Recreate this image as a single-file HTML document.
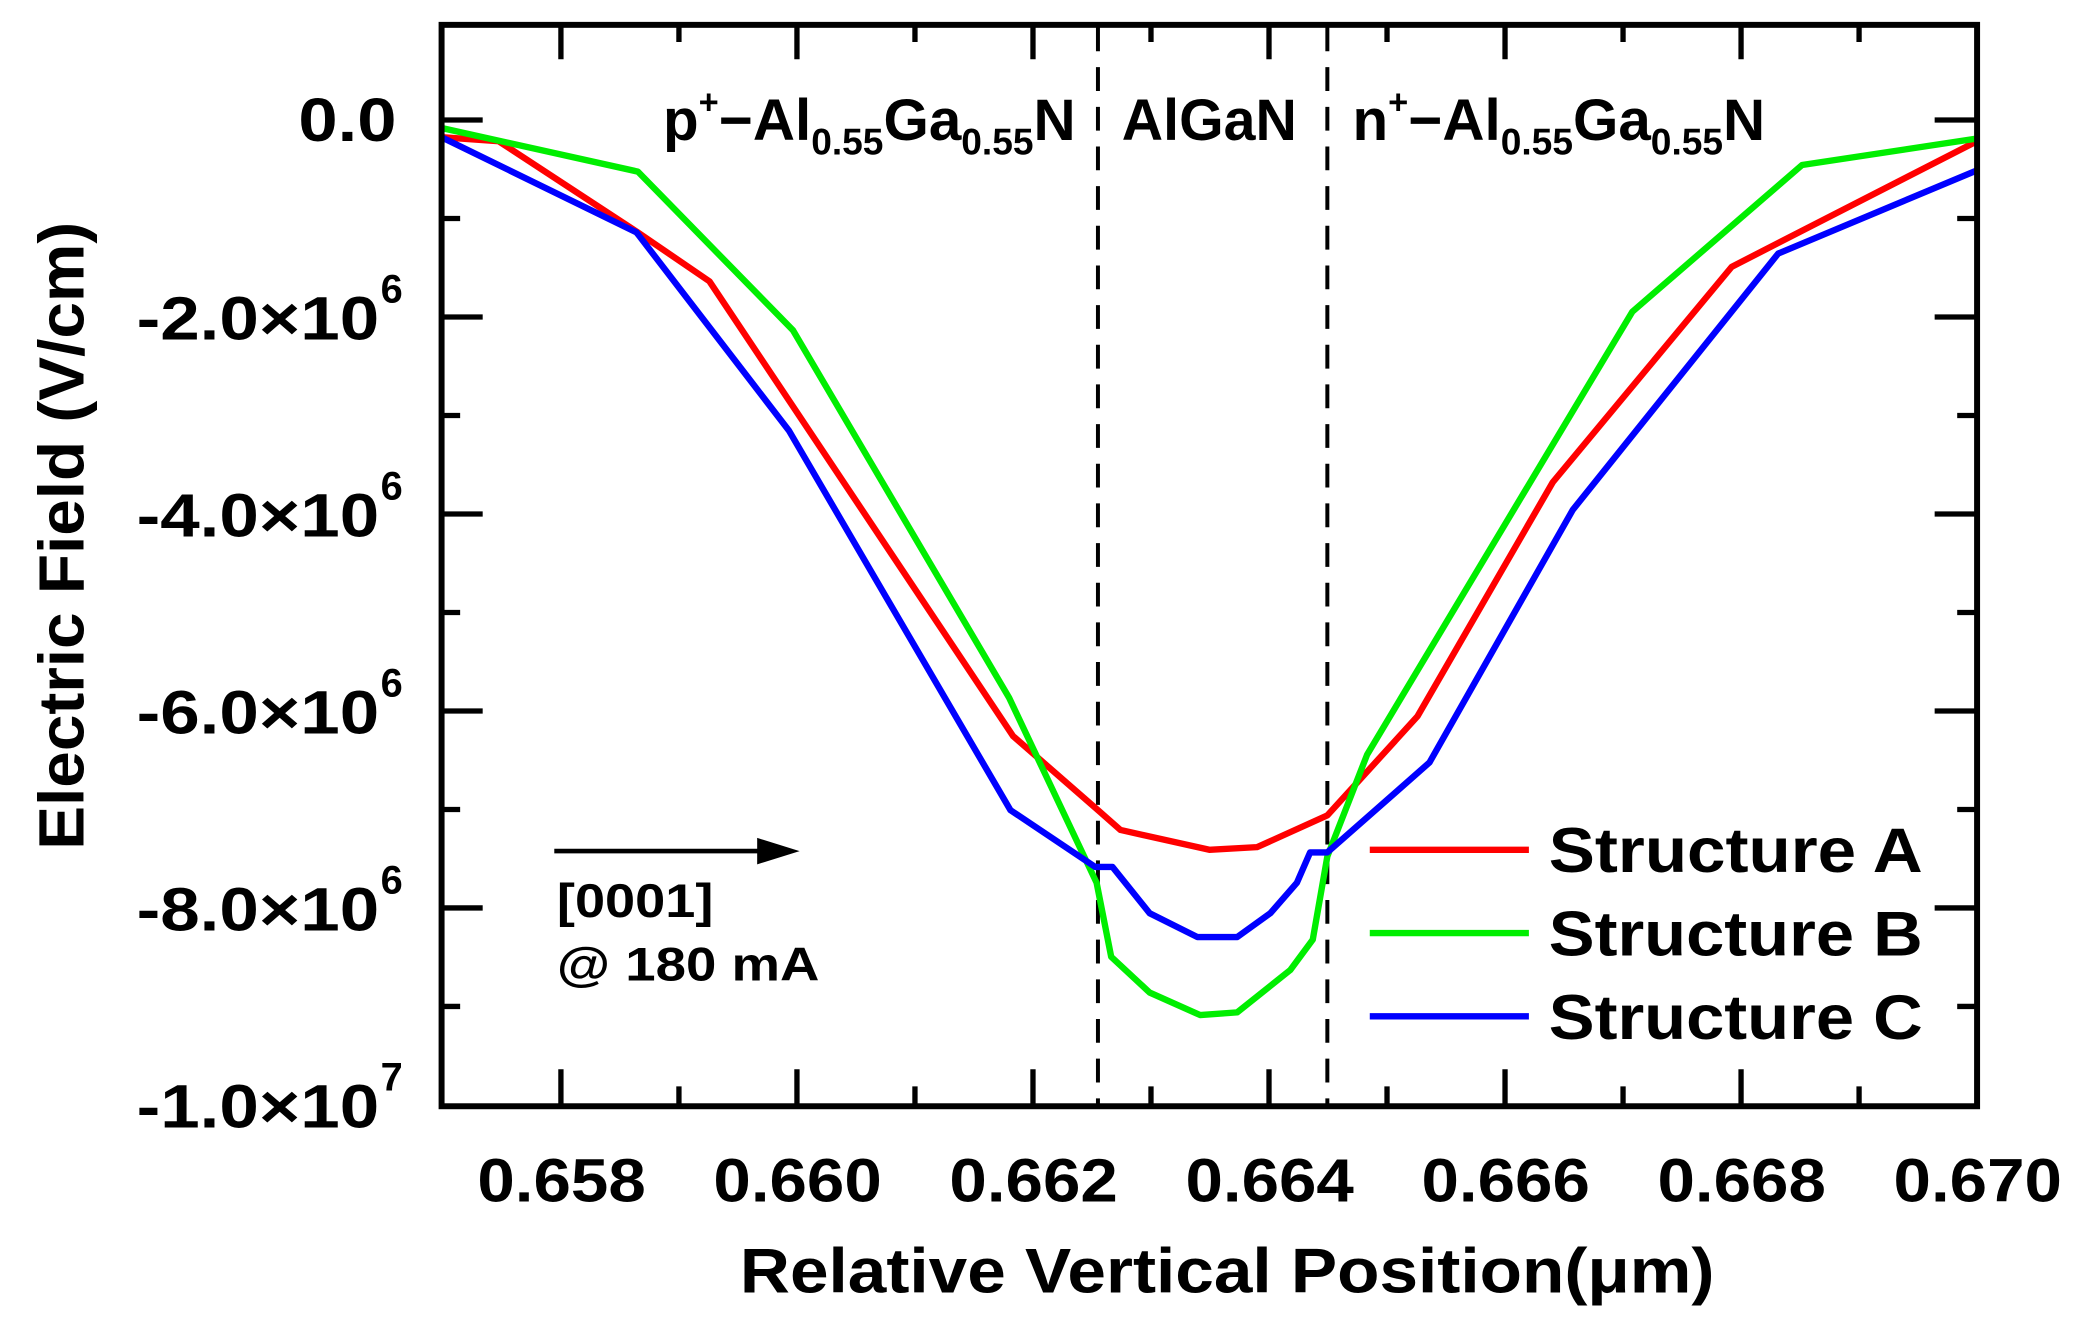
<!DOCTYPE html>
<html><head><meta charset="utf-8"><style>html,body{margin:0;padding:0;background:#fff}svg{display:block}</style></head>
<body>
<svg width="2084" height="1336" viewBox="0 0 2084 1336" xmlns="http://www.w3.org/2000/svg">
<g transform="translate(4,3.7) scale(1.326,1.322)" font-family="Liberation Sans, Arial, sans-serif" font-weight="bold" fill="#000">
<g stroke="#000" stroke-width="4">
<path d="M420,834v-28M598,834v-28M776,834v-28M954,834v-28M1132,834v-28M1310,834v-28M1488,834v-28
M420,14v28M598,14v28M776,14v28M954,14v28M1132,14v28M1310,14v28
M509,834v-15M687,834v-15M865,834v-15M1043,834v-15M1221,834v-15M1399,834v-15
M509,14v15M687,14v15M865,14v15M1043,14v15M1221,14v15M1399,14v15"/>
<path d="M329,88h32M329,237h32M329,386h32M329,535h32M329,684h32
M1488,88h-32M1488,237h-32M1488,386h-32M1488,535h-32M1488,684h-32
M329,162.5h15M329,311.5h15M329,460.5h15M329,609.5h15M329,758.5h15
M1488,162.5h-15M1488,311.5h-15M1488,460.5h-15M1488,609.5h-15M1488,758.5h-15"/>
</g>
<g stroke="#000" stroke-width="3" stroke-dasharray="18,12">
<line x1="825" y1="18" x2="825" y2="832"/>
<line x1="998" y1="18" x2="998" y2="832"/>
</g>
<g fill="none" stroke-width="4.8" stroke-linejoin="round">
<polyline stroke="#ff0000" points="330,101 373,104 478,173 532,210 761,554 825,610 842,625 909,640 945,638 998,614 1066,539 1168,362 1303,199 1488,104"/>
<polyline stroke="#00ee00" points="330,94 478,127 595,247 758,525 824,665 835,721 864,748 902,765 930,763 970,731 987,708 998,645 1028,568 1228,233 1356,122 1488,102"/>
<polyline stroke="#0000ff" points="330,101 477,173 592,323 759,610 823,653 836,653 864,688 900,706 930,706 955,688 975,665 985,642 998,642 1075,574 1183,383 1338,189 1488,126"/>
</g>
<rect x="330" y="16" width="1158" height="818" fill="none" stroke="#000" stroke-width="4.5"/>
<g font-size="46">
<text x="222" y="104" textLength="74" lengthAdjust="spacingAndGlyphs">0.0</text>
<text x="100" y="254" textLength="183" lengthAdjust="spacingAndGlyphs">-2.0×10</text><text x="284" y="226" font-size="30">6</text>
<text x="100" y="403" textLength="183" lengthAdjust="spacingAndGlyphs">-4.0×10</text><text x="284" y="375" font-size="30">6</text>
<text x="100" y="552" textLength="183" lengthAdjust="spacingAndGlyphs">-6.0×10</text><text x="284" y="524" font-size="30">6</text>
<text x="100" y="701" textLength="183" lengthAdjust="spacingAndGlyphs">-8.0×10</text><text x="284" y="673" font-size="30">6</text>
<text x="100" y="850" textLength="183" lengthAdjust="spacingAndGlyphs">-1.0×10</text><text x="284" y="822" font-size="30">7</text>
</g>
<g font-size="46">
<text x="357" y="906" textLength="127" lengthAdjust="spacingAndGlyphs">0.658</text>
<text x="535" y="906" textLength="127" lengthAdjust="spacingAndGlyphs">0.660</text>
<text x="713" y="906" textLength="127" lengthAdjust="spacingAndGlyphs">0.662</text>
<text x="891" y="906" textLength="127" lengthAdjust="spacingAndGlyphs">0.664</text>
<text x="1069" y="906" textLength="127" lengthAdjust="spacingAndGlyphs">0.666</text>
<text x="1247" y="906" textLength="127" lengthAdjust="spacingAndGlyphs">0.668</text>
<text x="1425" y="906" textLength="127" lengthAdjust="spacingAndGlyphs">0.670</text>
</g>
<text x="555" y="975" font-size="48" textLength="735" lengthAdjust="spacingAndGlyphs">Relative Vertical Position(μm)</text>
<text transform="translate(60,640) rotate(-90)" font-size="48" textLength="475" lengthAdjust="spacingAndGlyphs">Electric Field (V/cm)</text>
<g font-size="44">
<text x="497" y="103">p<tspan font-size="26" dy="-20">+</tspan><tspan dy="20">−Al</tspan><tspan font-size="28" dy="11">0.55</tspan><tspan dy="-11">Ga</tspan><tspan font-size="28" dy="11">0.55</tspan><tspan dy="-11">N</tspan></text>
<text x="843" y="103" textLength="132" lengthAdjust="spacingAndGlyphs">AlGaN</text>
<text x="1017" y="103">n<tspan font-size="26" dy="-20">+</tspan><tspan dy="20">−Al</tspan><tspan font-size="28" dy="11">0.55</tspan><tspan dy="-11">Ga</tspan><tspan font-size="28" dy="11">0.55</tspan><tspan dy="-11">N</tspan></text>
</g>
<g stroke-width="4.8">
<line x1="1030" y1="640" x2="1150" y2="640" stroke="#ff0000"/>
<line x1="1030" y1="703" x2="1150" y2="703" stroke="#00ee00"/>
<line x1="1030" y1="766" x2="1150" y2="766" stroke="#0000ff"/>
</g>
<g font-size="48">
<text x="1165" y="657" textLength="282" lengthAdjust="spacingAndGlyphs">Structure A</text>
<text x="1165" y="720" textLength="282" lengthAdjust="spacingAndGlyphs">Structure B</text>
<text x="1165" y="783" textLength="282" lengthAdjust="spacingAndGlyphs">Structure C</text>
</g>
<line x1="415" y1="641" x2="575" y2="641" stroke="#000" stroke-width="3.5"/>
<polygon points="568,631 600,641 568,651" fill="#000"/>
<g font-size="36">
<text x="417" y="691" textLength="118" lengthAdjust="spacingAndGlyphs">[0001]</text>
<text x="417" y="739" textLength="198" lengthAdjust="spacingAndGlyphs">@ 180 mA</text>
</g>
</g>
</svg>
</body></html>
